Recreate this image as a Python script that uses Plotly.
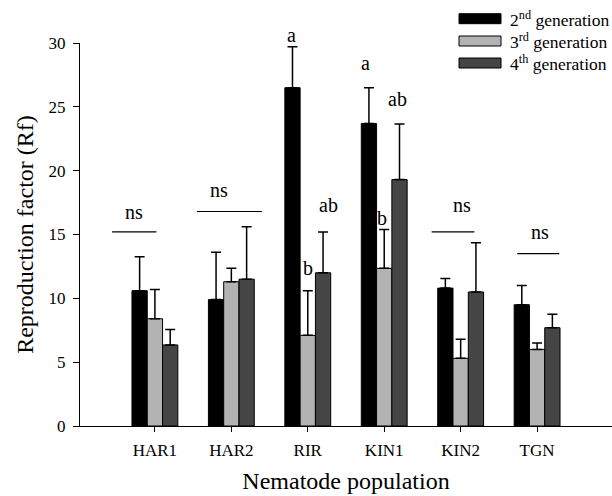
import plotly.graph_objects as go

categories = ["HAR1", "HAR2", "RIR", "KIN1", "KIN2", "TGN"]
series_names = ["2<sup>nd</sup> generation", "3<sup>rd</sup> generation", "4<sup>th</sup> generation"]
gen2 = [10.6, 9.9, 26.5, 23.7, 10.8, 9.5]
gen2_err = [2.65, 3.7, 3.2, 2.8, 0.75, 1.5]
gen3 = [8.4, 11.3, 7.1, 12.35, 5.3, 6.0]
gen3_err = [2.3, 1.05, 3.5, 3.05, 1.5, 0.5]
gen4 = [6.35, 11.5, 12.0, 19.3, 10.5, 7.7]
gen4_err = [1.2, 4.1, 3.2, 4.35, 3.85, 1.05]
colors = ["#000000", "#b3b3b3", "#454545"]

# significance annotations: (category index, offset, y, text)
letters = [
    (0, -0.28, 16.8, "ns"), (1, -0.16, 18.5, "ns"),
    (2, -0.21, 30.6, "a"), (2, 0.0, 12.4, "b"), (2, 0.27, 17.3, "ab"),
    (3, -0.24, 28.4, "a"), (3, -0.03, 16.3, "b"), (3, 0.18, 25.6, "ab"),
    (4, 0.02, 17.3, "ns"), (5, 0.04, 15.2, "ns"),
]
# ns lines: (category index, start offset, end offset, y)
ns_lines = [(0, -0.56, 0.02, 15.2), (1, -0.45, 0.40, 16.8), (4, -0.38, 0.18, 15.2), (5, -0.26, 0.29, 13.5)]

SERIF = "Liberation Serif"
YMAX = 30

xs = list(range(len(categories)))
fig = go.Figure()
for name, vals, errs, col in zip(series_names, [gen2, gen3, gen4], [gen2_err, gen3_err, gen4_err], colors):
    fig.add_trace(go.Bar(
        x=xs, y=vals, name=name, marker=dict(color=col, line=dict(color="black", width=1)),
        error_y=dict(type="data", array=errs, arrayminus=[0] * len(errs), symmetric=False,
                     color="black", thickness=1.5, width=5),
        showlegend=False, hoverinfo="skip",
    ))

annotations = []
for ci, off, y, t in letters:
    annotations.append(dict(x=ci + off, y=y / YMAX, xref="x", yref="y domain", text=t, showarrow=False,
                            xanchor="center", yanchor="middle",
                            font=dict(family=SERIF, size=20, color="black")))
shapes = []
for ci, a, b, y in ns_lines:
    shapes.append(dict(type="line", xref="x", yref="y", x0=ci + a, x1=ci + b, y0=y, y1=y,
                       line=dict(color="black", width=1.2)))

# manual legend (paper coords)
L, R, T, B = 80, 612, 43, 426
def px(x):
    return (x - L) / (R - L)
def py(y):
    return (B - y) / (B - T)
rows = [18.7, 41.0, 63.0]
for name, col, ry in zip(series_names, colors, rows):
    shapes.append(dict(type="rect", xref="paper", yref="paper", x0=px(459), x1=px(501),
                       y0=py(ry + 5), y1=py(ry - 5), fillcolor=col, line=dict(color="black", width=1)))
    annotations.append(dict(x=px(508), y=py(ry), xref="paper", yref="paper", text=name,
                            showarrow=False, xanchor="left", yanchor="middle",
                            font=dict(family=SERIF, size=17.5, color="black")))

fig.update_layout(
    width=612, height=496, barmode="group", bargap=0.4, bargroupgap=0,
    plot_bgcolor="white", paper_bgcolor="white",
    margin=dict(l=80, r=0, t=43, b=70),
    font=dict(family=SERIF, color="black"),
    annotations=annotations, shapes=shapes,
    xaxis=dict(range=[-0.98, 5.98], tickvals=xs, ticktext=categories, showline=True,
               linecolor="black", linewidth=1, ticks="outside", ticklen=5, tickcolor="black",
               ticklabelstandoff=4,
               showgrid=False, zeroline=False, tickfont=dict(family=SERIF, size=17, color="black"),
               title=dict(text="Nematode population", font=dict(family=SERIF, size=24, color="black"), standoff=12)),
    yaxis=dict(range=[0, YMAX], tickvals=[0, 5, 10, 15, 20, 25, 30], showline=True,
               linecolor="black", linewidth=1, ticks="outside", ticklen=6, tickcolor="black",
               ticklabelstandoff=4,
               showgrid=False, zeroline=False, tickfont=dict(family=SERIF, size=17, color="black"),
               title=dict(text="Reproduction factor (Rf)", font=dict(family=SERIF, size=24, color="black"), standoff=8)),
)
fig.write_html("out.html", config={"displayModeBar": False},
               post_script="document.body.style.margin='0';document.body.style.padding='0';")
